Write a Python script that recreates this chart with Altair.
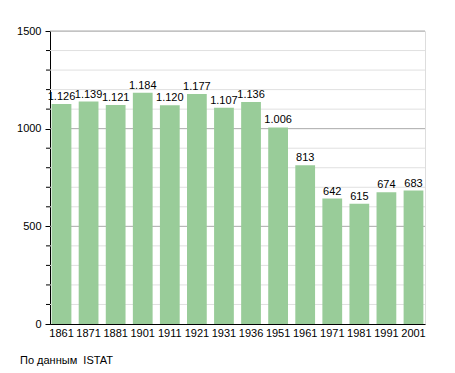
import altair as alt
import pandas as pd

years = ["1861", "1871", "1881", "1901", "1911", "1921", "1931", "1936", "1951", "1961", "1971", "1981", "1991", "2001"]
population = [1126, 1139, 1121, 1184, 1120, 1177, 1107, 1136, 1006, 813, 642, 615, 674, 683]
major_ticks = [0, 500, 1000, 1500]
minor_ticks = [v for v in range(100, 1500, 100) if v % 500 != 0]
source_note = "По данным\u00a0\u00a0ISTAT"

def fmt(v):
    return f"{v:,}".replace(",", ".")

df = pd.DataFrame({"year": years, "pop": population, "label": [fmt(v) for v in population]})
minor_df = pd.DataFrame({"v": minor_ticks})
major_df = pd.DataFrame({"v": [500, 1000, 1500]})
note_df = pd.DataFrame({"t": [source_note]})

FONT = "Liberation Sans"
W, H = 375, 293

yscale = alt.Scale(domain=[0, 1500], nice=False)
yaxis = alt.Axis(values=major_ticks, format="d", grid=False, tickColor="#000000", tickSize=5,
                 domainColor="#000000", labelFont=FONT, labelFontSize=11,
                 labelColor="#000000", labelPadding=4)

def Y(field):
    return alt.Y(field, scale=yscale, title=None, axis=yaxis)

minor_grid = alt.Chart(minor_df).mark_rule(color="#e0e0e0", strokeWidth=1).encode(
    y=Y("v:Q"), x=alt.value(0), x2=alt.value(W),
)
minor_tick = alt.Chart(minor_df).mark_rule(color="#000000", strokeWidth=1).encode(
    y=Y("v:Q"), x=alt.value(-4), x2=alt.value(0),
)
major_grid = alt.Chart(major_df).mark_rule(color="#aaaaaa", strokeWidth=1).encode(
    y=Y("v:Q"), x=alt.value(0), x2=alt.value(W),
)

xenc = alt.X("year:N", sort=years, title=None,
             scale=alt.Scale(paddingInner=0.27, paddingOuter=0.06),
             axis=alt.Axis(labelAngle=0, ticks=False, domainColor="#000000", labelFont=FONT,
                           labelFontSize=11, labelColor="#000000", labelPadding=3))

bars = alt.Chart(df).mark_bar(color="#99cc99").encode(x=xenc, y=Y("pop:Q"))

labels = alt.Chart(df).mark_text(font=FONT, fontSize=11, color="#000000", baseline="bottom", dy=-2).encode(
    x=xenc, y=Y("pop:Q"), text="label:N",
)

note = alt.Chart(note_df).mark_text(font=FONT, fontSize=11, color="#000000", align="left", baseline="middle").encode(
    x=alt.value(-30), y=alt.value(330), text="t:N",
)

chart = alt.layer(minor_grid, major_grid, minor_tick, bars, labels, note).properties(
    width=W, height=H,
    autosize=alt.AutoSizeParams(type="none"),
    padding={"left": 42, "top": 23, "right": 22, "bottom": 42},
).configure_view(stroke=None).configure(background="#ffffff")

chart.save("out.html", embed_options={"renderer": "svg", "actions": False})
